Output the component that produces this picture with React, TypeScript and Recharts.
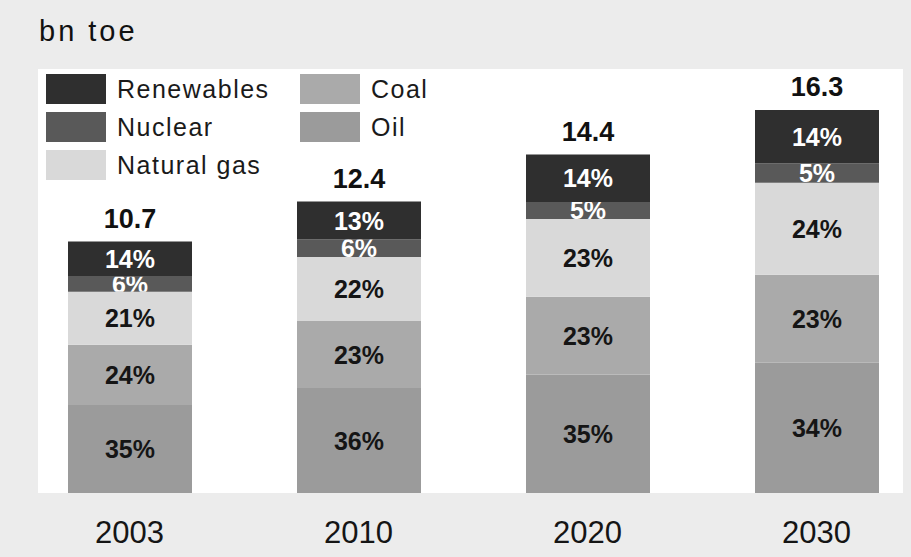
import React from "react";
import { BarChart, Bar, XAxis, YAxis, LabelList, Legend } from "recharts";

const YEARS = ["2003", "2010", "2020", "2030"];
const TOTALS = [10.7, 12.4, 14.4, 16.3];
// shares in % of the total, bottom to top
const OIL_PCT = [35, 36, 35, 34];
const COAL_PCT = [24, 23, 23, 23];
const GAS_PCT = [21, 22, 23, 24];
const NUCLEAR_PCT = [6, 6, 5, 5];
const RENEWABLES_PCT = [14, 13, 14, 14];

const SERIES = [
  { key: "oil", name: "Oil", pct: OIL_PCT, fill: "#9b9b9b", text: "#151515" },
  { key: "coal", name: "Coal", pct: COAL_PCT, fill: "#aaaaaa", text: "#151515" },
  { key: "gas", name: "Natural gas", pct: GAS_PCT, fill: "#d9d9d9", text: "#151515" },
  { key: "nuclear", name: "Nuclear", pct: NUCLEAR_PCT, fill: "#595959", text: "#ffffff" },
  { key: "renewables", name: "Renewables", pct: RENEWABLES_PCT, fill: "#2f2f2f", text: "#ffffff" },
];

// legend order as printed: left column then right column
const LEGEND_LEFT = ["renewables", "nuclear", "gas"];
const LEGEND_RIGHT = ["coal", "oil"];

const data = YEARS.map((year, i) => {
  const row: Record<string, number | string> = { year, total: TOTALS[i] };
  SERIES.forEach((s) => {
    row[s.key] = (TOTALS[i] * s.pct[i]) / 100;
    row[s.key + "Pct"] = s.pct[i];
  });
  return row;
});

const FONT = "'Liberation Sans', Arial, sans-serif";

function PctLabel(props: any, textColor: string, id: string) {
  const { x, y, width, height, value, index } = props;
  const cx = x + width / 2;
  const cy = y + height / 2;
  const clip = `clip-${id}-${index}`;
  return (
    <g>
      <clipPath id={clip}>
        <rect x={x} y={y} width={width} height={height} />
      </clipPath>
      <text
        x={cx}
        y={cy + 9}
        textAnchor="middle"
        fill={textColor}
        fontSize={25}
        fontWeight="bold"
        fontFamily={FONT}
        clipPath={`url(#${clip})`}
      >
        {value}%
      </text>
    </g>
  );
}

function TotalLabel(props: any) {
  const { x, y, width, value } = props;
  return (
    <text
      x={x + width / 2}
      y={y - 13.5}
      textAnchor="middle"
      fill="#111"
      fontSize={27}
      fontWeight="bold"
      fontFamily={FONT}
    >
      {value}
    </text>
  );
}

function YearTick(props: any) {
  const { x, y, payload } = props;
  return (
    <text x={x} y={y + 42} textAnchor="middle" fill="#151515" fontSize={31} fontFamily={FONT}>
      {payload.value}
    </text>
  );
}

function LegendBox() {
  const item = (key: string, left: number, top: number) => {
    const s = SERIES.find((d) => d.key === key)!;
    return (
      <div key={key} style={{ position: "absolute", left, top, display: "flex", alignItems: "center" }}>
        <div style={{ width: 60, height: 30, background: s.fill }} />
        <span
          style={{
            marginLeft: 11,
            fontSize: 25,
            letterSpacing: 1.5,
            color: "#1a1a1a",
            fontFamily: FONT,
            lineHeight: "30px",
          }}
        >
          {s.name}
        </span>
      </div>
    );
  };
  return (
    <div style={{ position: "relative", width: 911, height: 200 }}>
      {LEGEND_LEFT.map((k, i) => item(k, 46, 74 + i * 38))}
      {LEGEND_RIGHT.map((k, i) => item(k, 300, 74 + i * 38))}
    </div>
  );
}

export default function App() {
  return (
    <div
      style={{
        position: "absolute",
        left: 0,
        top: 0,
        width: 911,
        height: 557,
        overflow: "hidden",
        background: "#ececec",
      }}
    >
      <div
        style={{
          position: "absolute",
          left: 38,
          top: 69,
          width: 865,
          height: 424,
          background: "#ffffff",
        }}
      />
      <div
        style={{
          position: "absolute",
          left: 39,
          top: 13,
          fontSize: 29,
          letterSpacing: 3,
          fontFamily: FONT,
          color: "#111",
          lineHeight: "36px",
        }}
      >
        bn toe
      </div>
      <div style={{ position: "absolute", left: 0, top: 0 }}>
        <BarChart
          width={940}
          height={557}
          data={data}
          margin={{ top: 70, right: 9, left: 15, bottom: 0 }}
        >
          <XAxis
            dataKey="year"
            height={64}
            axisLine={false}
            tickLine={false}
            tick={<YearTick />}
            interval={0}
          />
          <YAxis hide domain={[0, 18]} />
          <Legend
            layout="horizontal"
            verticalAlign="middle"
            align="center"
            content={() => <LegendBox />}
            wrapperStyle={{ position: "absolute", left: 0, top: 0, width: 911, height: 200 }}
          />
          {SERIES.map((s) => (
            <Bar
              key={s.key}
              dataKey={s.key}
              name={s.name}
              stackId="a"
              fill={s.fill}
              barSize={124}
              isAnimationActive={false}
            >
              <LabelList
                dataKey={s.key + "Pct"}
                content={(p: any) => PctLabel(p, s.text, s.key)}
              />
              {s.key === "renewables" && (
                <LabelList dataKey="total" content={(p: any) => <TotalLabel {...p} />} />
              )}
            </Bar>
          ))}
        </BarChart>
      </div>
    </div>
  );
}
